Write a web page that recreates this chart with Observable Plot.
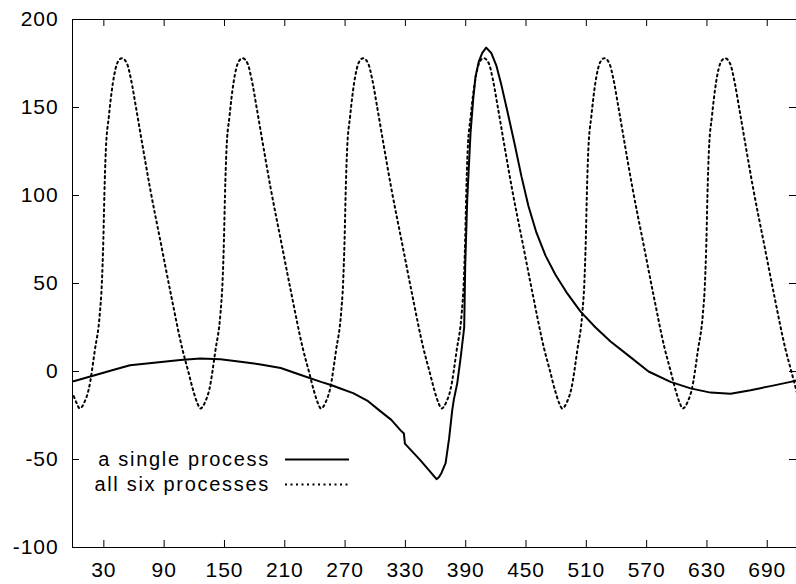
<!DOCTYPE html>
<html><head><meta charset="utf-8">
<script src="https://cdn.jsdelivr.net/npm/d3@7"></script>
<script src="https://cdn.jsdelivr.net/npm/@observablehq/plot@0.6"></script>
<style>
body{margin:0;background:#fff}
#chart svg{display:block}
#chart svg g[aria-label$="tick label"] text{letter-spacing:0.9px}
</style>
</head><body><div id="chart"></div>
<script>
// a single process
const singleX = [0,20,40,56,80,106,126,146,166,186,206,226,246,256,266,278,292,305,316,325,328.5,329.5,345,361,363.5,366,370,373.5,376.6,378.2,381.6,385,388.5,389.5,391.5,394.8,397.5,399.8,403,406.5,410.4,415.4,420.4,425.4,431.4,438.4,445.4,452.4,460.3,469.3,479.3,490.3,504.3,519.2,534.1,552,571.9,593.8,613.7,633.6,653.5,673.4,693.3,713.2,720];
const singleY = [-5.5,-2.3,1,3.6,5,6.5,7.4,6.9,5.6,4,2,-2,-5.9,-7.7,-9.8,-12.3,-16.5,-22.5,-27.5,-33.3,-35.2,-41,-50.5,-61.2,-60,-57.5,-52,-38,-22,-16,-6.6,8,25,60,97.6,135.6,155,167.7,176,181,184,181,174,163,148,130,111,94,79,66,55,45,34,25,17,9,0,-5.9,-9.6,-12,-12.6,-10.6,-8.3,-5.9,-5];

// all six processes
const sixX = [0,3,
6,11,15,21,26,28,29.5,30.5,32,35,39,44,48,53,57,62,68,76,87,97,108,114,119,123,
126,131,135,141,146,148,149.5,150.5,152,155,159,164,168,173,177,182,188,196,207,217,228,234,239,243,
246,251,255,261,266,268,269.5,270.5,272,275,279,284,288,293,297,302,308,316,327,337,348,354,359,363,
366,371,375,381,386,388,389.5,390.5,392,395,399,404,408,413,417,422,428,436,447,457,468,474,479,483,
486,491,495,501,506,508,509.5,510.5,512,515,519,524,528,533,537,542,548,556,567,577,588,594,599,603,
606,611,615,621,626,628,629.5,630.5,632,635,639,644,648,653,657,662,668,676,687,697,708,714,720];
const sixY = [-14,-18,
-21,-17,-10,12,33,50,75,100,126,145,164,176,178,175,166,150,130,104,72,43,13,0,-11,-18,
-21,-17,-10,12,33,50,75,100,126,145,164,176,178,175,166,150,130,104,72,43,13,0,-11,-18,
-21,-17,-10,12,33,50,75,100,126,145,164,176,178,175,166,150,130,104,72,43,13,0,-11,-18,
-21,-17,-10,12,33,50,75,100,126,145,164,176,178,175,166,150,130,104,72,43,13,0,-11,-18,
-21,-17,-10,12,33,50,75,100,126,145,164,176,178,175,166,150,130,104,72,43,13,0,-11,-18,
-21,-17,-10,12,33,50,75,100,126,145,164,176,178,175,166,150,130,104,72,43,13,0,-13];

const xTicks = [30,90,150,210,270,330,390,450,510,570,630,690];
const yTicks = [-100,-50,0,50,100,150,200];
const seriesNames = ["a single process","all six processes"];
const seriesDash = [null,"2,3.5"];

const single = singleX.map((x,i)=>({x, y: singleY[i]}));
const six = sixX.map((x,i)=>({x, y: sixY[i]}));

const W=796, H=584, mL=72, mR=0, mT=19, mB=37;
const plotW = W-mL-mR, plotH = H-mT-mB, tk = 7;

const chart = Plot.plot({
  width: W, height: H,
  marginLeft: mL, marginRight: mR, marginTop: mT, marginBottom: mB,
  style: {fontFamily: "'Liberation Sans', Arial, sans-serif", fontSize: "21px", background: "#fff", color: "#000"},
  x: {domain: [0,720], range: [73.2, 796.9], label: null},
  y: {domain: [-100,200], label: null},
  marks: [
    Plot.line(six, {x:"x", y:"y", stroke:"#000", strokeWidth:2, strokeDasharray:"2,3.5", curve:"monotone-x", clip:true}),
    Plot.line(single, {x:"x", y:"y", stroke:"#000", strokeWidth:2, curve:"linear", clip:true}),
    Plot.tickX(xTicks, {x: d=>d, insetTop: plotH-tk, stroke:"#000"}),
    Plot.tickX(xTicks, {x: d=>d, insetBottom: plotH-tk, stroke:"#000"}),
    Plot.tickY(yTicks, {y: d=>d, insetRight: plotW-tk, stroke:"#000"}),
    Plot.tickY(yTicks, {y: d=>d, insetLeft: plotW-tk, stroke:"#000"}),
    Plot.axisX(xTicks, {tickSize:0, tickPadding:15, tickFormat: d=>String(d), label:null}),
    Plot.axisY(yTicks, {tickSize:0, tickPadding:14, tickFormat: d=>String(d), label:null}),
    Plot.frame({stroke:"#000"})
  ]
});
document.getElementById("chart").appendChild(chart);

// legend
const svg = d3.select(chart);
const lg = svg.append("g")
  .attr("font-family","'Liberation Sans', Arial, sans-serif")
  .attr("font-size",20).style("letter-spacing","1.7px");
seriesNames.forEach((name,i)=>{
  const base = 466 + i*25;
  lg.append("text").attr("x",270).attr("y",base).attr("text-anchor","end").attr("fill","#000").text(name);
  const l = lg.append("line").attr("x1",285).attr("x2",349).attr("y1",base-6.5).attr("y2",base-6.5)
    .attr("stroke","#000").attr("stroke-width",2);
  if (seriesDash[i]) l.attr("stroke-dasharray",seriesDash[i]);
});
</script>
</body></html>
